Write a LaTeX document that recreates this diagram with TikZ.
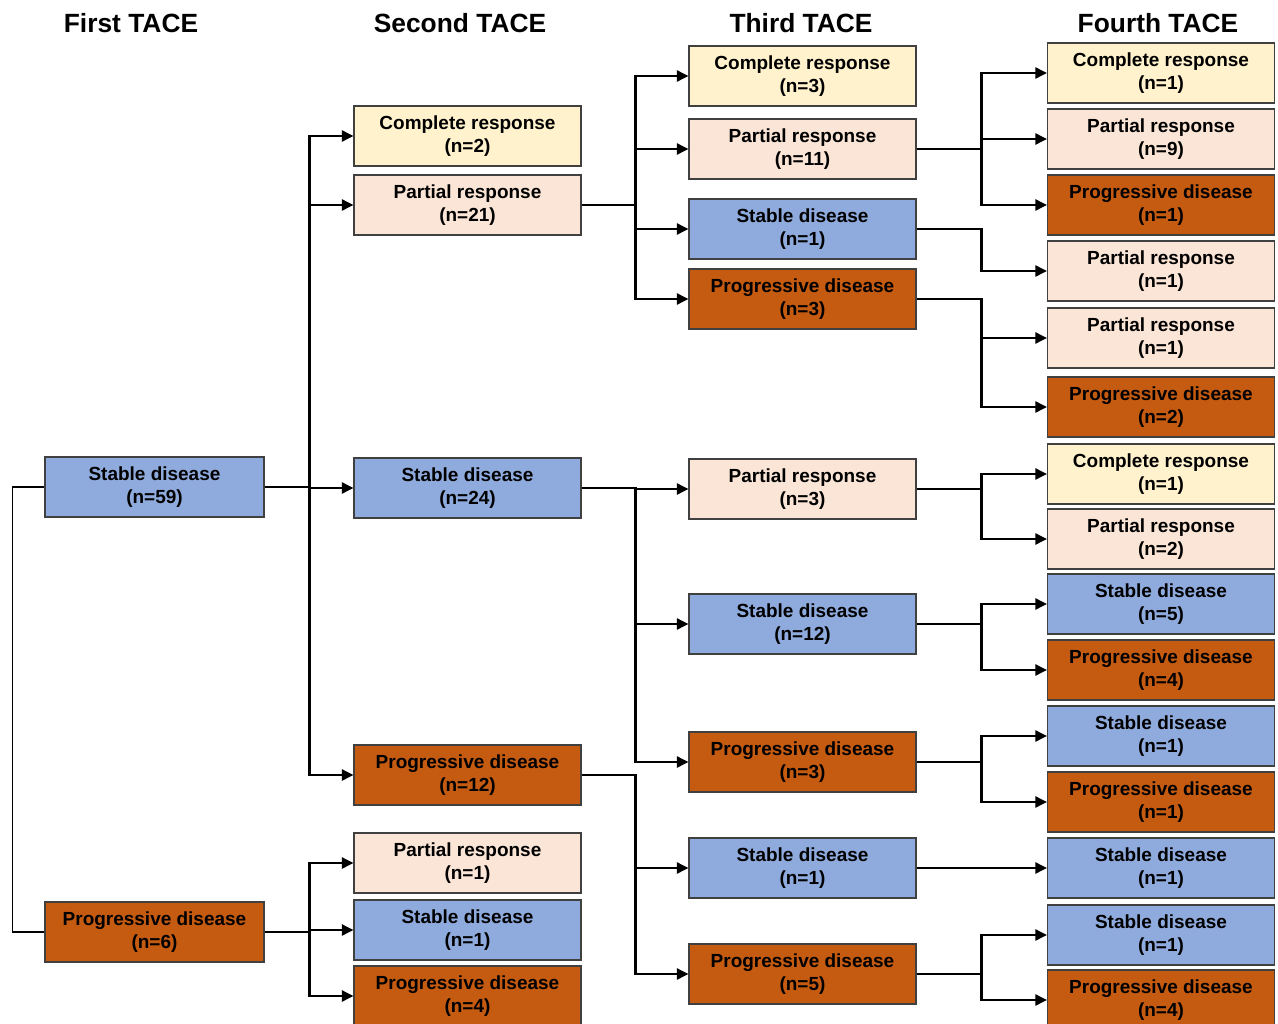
\documentclass[tikz,border=0pt]{standalone}
\usepackage{fontspec}
\setmainfont{Liberation Sans}
\usepackage{xcolor}
\usetikzlibrary{arrows, arrows.meta, positioning, calc}

\definecolor{crcol}{HTML}{FFF2CC}
\definecolor{prcol}{HTML}{FBE5D6}
\definecolor{sdcol}{HTML}{8FAADC}
\definecolor{pdcol}{HTML}{C55A11}

\begin{document}
\begin{tikzpicture}[
    x=0.02cm, y=-0.02cm,
    block/.style={rectangle, draw=black!75, line width=0.7pt, minimum width=4.54cm, minimum height=1.2cm,
                  inner sep=0pt, font=\fontsize{10.8}{13.2}\selectfont\bfseries, align=center,
                  execute at begin node={\rule{0pt}{10.5pt}}},
    head/.style={font=\fontsize{15}{17}\selectfont\bfseries},
    arrow/.style={-{Triangle[length=2.3mm, width=2.2mm]}, line width=1.3pt},
    link/.style={line width=1.3pt}
]
    \useasboundingbox (0,0) rectangle (1278,1024);

    % Headers
    \node [head] (h1) at (131, 23) {First TACE};
    \node [head] (h2) at (460, 23) {Second TACE};
    \node [head] (h3) at (801, 23) {Third TACE};
    \node [head] (h4) at (1158, 23) {Fourth TACE};

    % First TACE
    \node [block, fill=sdcol, minimum width=4.38cm] (a1) at (154.5, 487) {Stable disease\\(n=59)};
    \node [block, fill=pdcol, minimum width=4.38cm] (a2) at (154.5, 932) {Progressive disease\\(n=6)};

    % Second TACE
    \node [block, fill=crcol] (b1) at (467.5, 136) {Complete response\\(n=2)};
    \node [block, fill=prcol] (b2) at (467.5, 205) {Partial response\\(n=21)};
    \node [block, fill=sdcol] (b3) at (467.5, 488) {Stable disease\\(n=24)};
    \node [block, fill=pdcol] (b4) at (467.5, 775) {Progressive disease\\(n=12)};
    \node [block, fill=prcol] (b5) at (467.5, 863) {Partial response\\(n=1)};
    \node [block, fill=sdcol] (b6) at (467.5, 930) {Stable disease\\(n=1)};
    \node [block, fill=pdcol] (b7) at (467.5, 996) {Progressive disease\\(n=4)};

    % Third TACE
    \node [block, fill=crcol] (c1) at (802.5, 76) {Complete response\\(n=3)};
    \node [block, fill=prcol] (c2) at (802.5, 149) {Partial response\\(n=11)};
    \node [block, fill=sdcol] (c3) at (802.5, 229) {Stable disease\\(n=1)};
    \node [block, fill=pdcol] (c4) at (802.5, 299) {Progressive disease\\(n=3)};
    \node [block, fill=prcol] (c5) at (802.5, 489) {Partial response\\(n=3)};
    \node [block, fill=sdcol] (c6) at (802.5, 624) {Stable disease\\(n=12)};
    \node [block, fill=pdcol] (c7) at (802.5, 762) {Progressive disease\\(n=3)};
    \node [block, fill=sdcol] (c8) at (802.5, 868) {Stable disease\\(n=1)};
    \node [block, fill=pdcol] (c9) at (802.5, 974) {Progressive disease\\(n=5)};

    % Fourth TACE
    \node [block, fill=crcol] (d1) at (1161, 73) {Complete response\\(n=1)};
    \node [block, fill=prcol] (d2) at (1161, 139) {Partial response\\(n=9)};
    \node [block, fill=pdcol] (d3) at (1161, 205) {Progressive disease\\(n=1)};
    \node [block, fill=prcol] (d4) at (1161, 271) {Partial response\\(n=1)};
    \node [block, fill=prcol] (d5) at (1161, 338) {Partial response\\(n=1)};
    \node [block, fill=pdcol] (d6) at (1161, 407) {Progressive disease\\(n=2)};
    \node [block, fill=crcol] (d7) at (1161, 474) {Complete response\\(n=1)};
    \node [block, fill=prcol] (d8) at (1161, 539) {Partial response\\(n=2)};
    \node [block, fill=sdcol] (d9) at (1161, 604) {Stable disease\\(n=5)};
    \node [block, fill=pdcol] (d10) at (1161, 670) {Progressive disease\\(n=4)};
    \node [block, fill=sdcol] (d11) at (1161, 736) {Stable disease\\(n=1)};
    \node [block, fill=pdcol] (d12) at (1161, 802) {Progressive disease\\(n=1)};
    \node [block, fill=sdcol] (d13) at (1161, 868) {Stable disease\\(n=1)};
    \node [block, fill=sdcol] (d14) at (1161, 935) {Stable disease\\(n=1)};
    \node [block, fill=pdcol] (d15) at (1161, 1000) {Progressive disease\\(n=4)};

    % Bracket
    \draw [line width=1pt] (a1.west) -- ++(-32,0) |- (a2.west);

    % First -> Second
    \draw [arrow] (a1.east) -- ++(45,0) |- (b1.west);
    \draw [arrow] (a1.east) -- ++(45,0) |- (b2.west);
    \draw [arrow] (a1.east) -- ++(45,0) |- (b3.west);
    \draw [arrow] (a1.east) -- ++(45,0) |- (b4.west);
    \draw [arrow] (a2.east) -- ++(45,0) |- (b5.west);
    \draw [arrow] (a2.east) -- ++(45,0) |- (b6.west);
    \draw [arrow] (a2.east) -- ++(45,0) |- (b7.west);

    % Second -> Third
    \draw [arrow] (b2.east) -- ++(54,0) |- (c1.west);
    \draw [arrow] (b2.east) -- ++(54,0) |- (c2.west);
    \draw [arrow] (b2.east) -- ++(54,0) |- (c3.west);
    \draw [arrow] (b2.east) -- ++(54,0) |- (c4.west);
    \draw [arrow] (b3.east) -- ++(54,0) |- (c5.west);
    \draw [arrow] (b3.east) -- ++(54,0) |- (c6.west);
    \draw [arrow] (b3.east) -- ++(54,0) |- (c7.west);
    \draw [arrow] (b4.east) -- ++(54,0) |- (c8.west);
    \draw [arrow] (b4.east) -- ++(54,0) |- (c9.west);

    % Third -> Fourth
    \draw [arrow] (c2.east) -- ++(65,0) |- (d1.west);
    \draw [arrow] (c2.east) -- ++(65,0) |- (d2.west);
    \draw [arrow] (c2.east) -- ++(65,0) |- (d3.west);
    \draw [arrow] (c3.east) -- ++(65,0) |- (d4.west);
    \draw [arrow] (c4.east) -- ++(65,0) |- (d5.west);
    \draw [arrow] (c4.east) -- ++(65,0) |- (d6.west);
    \draw [arrow] (c5.east) -- ++(65,0) |- (d7.west);
    \draw [arrow] (c5.east) -- ++(65,0) |- (d8.west);
    \draw [arrow] (c6.east) -- ++(65,0) |- (d9.west);
    \draw [arrow] (c6.east) -- ++(65,0) |- (d10.west);
    \draw [arrow] (c7.east) -- ++(65,0) |- (d11.west);
    \draw [arrow] (c7.east) -- ++(65,0) |- (d12.west);
    \draw [arrow] (c8.east) -- (d13.west);
    \draw [arrow] (c9.east) -- ++(65,0) |- (d14.west);
    \draw [arrow] (c9.east) -- ++(65,0) |- (d15.west);
\end{tikzpicture}
\end{document}
